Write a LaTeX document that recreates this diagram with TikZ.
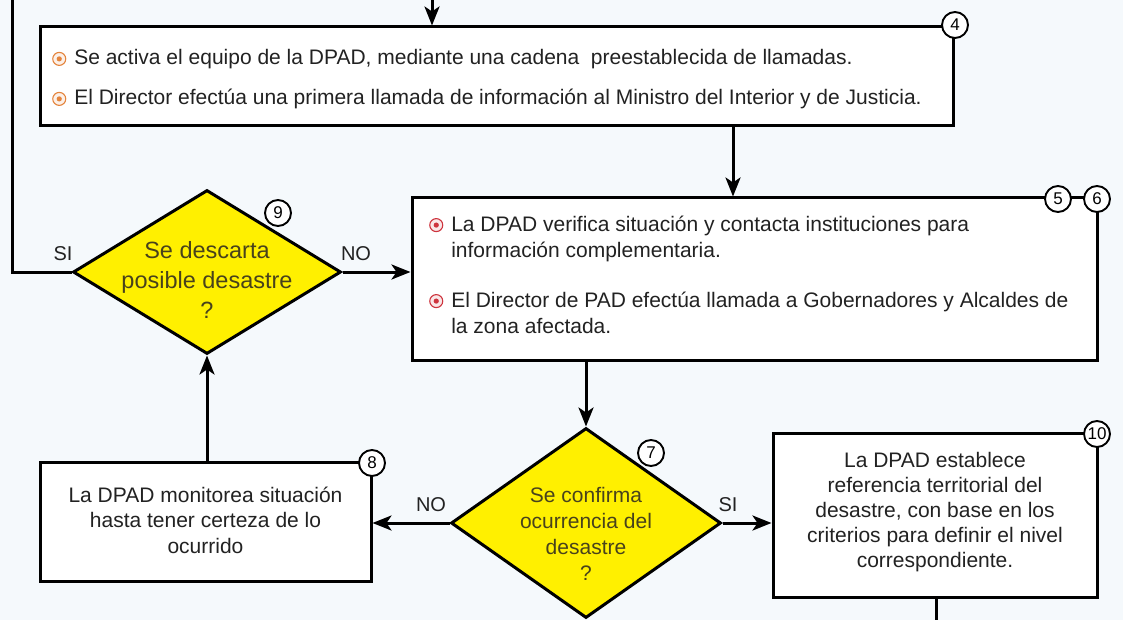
\documentclass[tikz,border=0pt]{standalone}
\usepackage{fontspec}
\setmainfont{Liberation Sans}
\usepackage{xcolor}
\usepackage{tikz}
\usetikzlibrary{positioning,shapes.geometric,arrows.meta}

\definecolor{bgblue}{RGB}{245,249,252}
\definecolor{dyellow}{RGB}{255,240,0}
\definecolor{dtext}{RGB}{72,66,28}
\definecolor{btext}{RGB}{34,34,34}
\definecolor{borange}{RGB}{228,132,60}
\definecolor{bred}{RGB}{206,52,62}

\newcommand{\dotbul}[1]{\tikz[baseline=-0.55ex]{\draw[#1, line width=1.1pt, fill=#1!12] (0,0) circle (6.5pt); \fill[#1] (0,0) circle (2.6pt);}}

\begin{document}
\begin{tikzpicture}[x = 1pt, y = -1pt,
  >={Stealth[length=19pt, width=15pt, inset=5pt]},
  box/.style = {draw, fill = white, line width = 3pt, inner sep = 0pt},
  decision/.style = {diamond, draw, fill = dyellow, line width = 3pt, inner sep = 0pt},
  num/.style = {circle, draw, fill = white, line width = 1.9pt, minimum size = 26pt,
    inner sep = 0pt, font = \fontsize{17}{17}\selectfont},
  btxt/.style = {inner sep = 0pt, text = btext},
  dtxt/.style = {inner sep = 0pt, text = dtext, align = center},
  lbl/.style = {inner sep = 0pt, text = btext, font = \fontsize{20}{20}\selectfont},
  link/.style = {line width = 3pt}]

  \fill[bgblue] (0, 0) rectangle (1123, 620);
  \useasboundingbox (0, 0) rectangle (1123, 620);

  % boxes
  \node[box, minimum width = 913, minimum height = 99] (B4) at (496.5, 76.5) {};

  \node[box, minimum width = 685, minimum height = 162] (B56) at (754.5, 279) {};

  \node[box, minimum width = 331, minimum height = 119] (B8) at (205.5, 521.5) {};

  \node[box, minimum width = 324, minimum height = 164] (B10) at (935, 515) {};

  % decisions
  \node[decision, minimum width = 268, minimum height = 164] (D9) at (207, 272) {};

  \node[decision, minimum width = 270, minimum height = 190] (D7) at (586, 523) {};

  % texts
  \node[btxt, anchor = west, font = \fontsize{21}{40}\selectfont] (T4) at (52, 77) {
    \begin{tabular}{@{}l@{\hspace{8pt}}l@{}}
      \dotbul{borange} & Se activa el equipo de la DPAD, mediante una cadena \ preestablecida de llamadas. \\
      \dotbul{borange} & El Director efectúa una primera llamada de información al Ministro del Interior y de Justicia.
    \end{tabular}
  };

  \node[btxt, anchor = west, font = \fontsize{21}{26}\selectfont] (T56) at (429, 277) {
    \begin{tabular}{@{}l@{\hspace{8pt}}l@{}}
      \dotbul{bred} & La DPAD verifica situación y contacta instituciones para \\
                    & información complementaria. \\[24pt]
      \dotbul{bred} & El Director de PAD efectúa llamada a Gobernadores y Alcaldes de \\
                    & la zona afectada.
    \end{tabular}
  };

  \node[btxt, align = center, font = \fontsize{21}{25.5}\selectfont] (T8) at (205.5, 520) {
    La DPAD monitorea situación\\
    hasta tener certeza de lo\\
    ocurrido
  };

  \node[btxt, align = center, font = \fontsize{21}{25}\selectfont] (T10) at (935, 512) {
    La DPAD establece\\
    referencia territorial del\\
    desastre, con base en los\\
    criterios para definir el nivel\\
    correspondiente.
  };

  \node[dtxt, font = \fontsize{23.5}{30}\selectfont] (T9) at (207, 280) {
    Se descarta\\
    posible desastre\\
    ?
  };

  \node[dtxt, font = \fontsize{21}{26}\selectfont] (T7) at (586, 534) {
    Se confirma\\
    ocurrencia del\\
    desastre\\
    ?
  };

  % step numbers
  \node[num] (N4) at (955, 25) {4};

  \node[num] (N5) at (1058, 199) {5};

  \node[num] (N6) at (1097, 199) {6};

  \node[num] (N8) at (372, 463) {8};

  \node[num] (N10) at (1097, 434) {10};

  \node[num] (N9) at (278, 213) {9};

  \node[num] (N7) at (651, 453) {7};

  % answer labels
  \node[lbl] (SI9) at (63, 254) {SI};

  \node[lbl] (NO9) at (356, 254) {NO};

  \node[lbl] (NO7) at (431, 505) {NO};

  \node[lbl] (SI7) at (728, 505) {SI};

  % free ends
  \coordinate (in4) at (432, 0);
  \coordinate (back) at (12, 0);
  \coordinate (split) at (733, 0);
  \coordinate (out10) at (936, 620);

  \draw[link, ->] (in4) -- (in4 |- B4.north);
  \draw[link, ->] (split |- B4.south) -- (split |- B56.north);
  \draw[link, ->] (D9.east) -- (D9.east -| B56.west);
  \draw[link] (D9.west) -| (back);
  \draw[link, ->] (B56.south -| D7.north) -- (D7.north);
  \draw[link, ->] (D7.west) -- (D7.west -| B8.east);
  \draw[link, ->] (D7.east) -- (D7.east -| B10.west);
  \draw[link, ->] (B8.north -| D9.south) -- (D9.south);
  \draw[link] (B10.south -| out10) -- (out10);
\end{tikzpicture}
\end{document}
